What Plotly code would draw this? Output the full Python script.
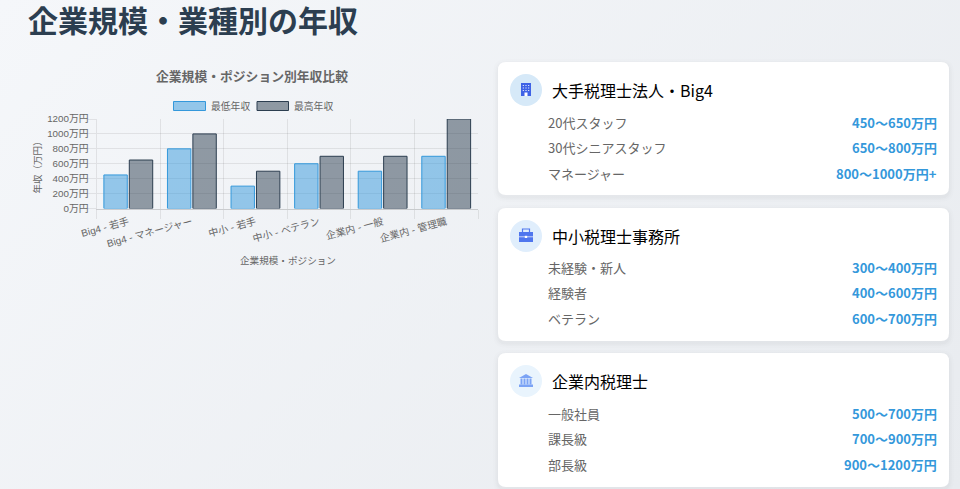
import plotly.graph_objects as go

W = 960
H = 489

# chart data
positions = ["Big4 - 若手", "Big4 - マネージャー", "中小 - 若手", "中小 - ベテラン", "企業内 - 一般", "企業内 - 管理職"]
min_pay = [450, 800, 300, 600, 500, 700]
max_pay = [650, 1000, 500, 700, 700, 1200]
y_ticks = [0, 200, 400, 600, 800, 1000, 1200]
y_tick_labels = ["0万円", "200万円", "400万円", "600万円", "800万円", "1000万円", "1200万円"]

# cards
card_titles = ["大手税理士法人・Big4", "中小税理士事務所", "企業内税理士"]
card_labels = [["20代スタッフ", "30代シニアスタッフ", "マネージャー"],
               ["未経験・新人", "経験者", "ベテラン"],
               ["一般社員", "課長級", "部長級"]]
card_values = [["450〜650万円", "650〜800万円", "800〜1000万円+"],
               ["300〜400万円", "400〜600万円", "600〜700万円"],
               ["500〜700万円", "700〜900万円", "900〜1200万円"]]
card_tops = [62, 208, 353]
card_bottoms = [195, 341, 487]
row_offsets = [[60, 85, 111], [59, 84, 110], [60, 85, 111]]
circle_colors = ["#d6e9f8", "#e0eefc", "#e9f4fd"]
icon_colors = ["#3f63e6", "#4f76ee", "#7ba3f5"]

CJK = "Noto Sans CJK JP"
CHART_FONT = "Liberation Sans, Noto Sans CJK JP"


def px(x):
    return x / W


def py(y):
    return 1 - y / H


def add_text(fig, x, y, text, size, color, anchor="left", font=CJK, angle=0, height=None):
    # annotations carry about 2px of padding, take it back here
    pad = {"left": -2, "center": 0, "right": 2}[anchor]
    fig.add_annotation(x=px(x + pad), y=py(y), xref="paper", yref="paper", text=text, showarrow=False,
                       xanchor=anchor, yanchor="middle", textangle=angle, height=height,
                       font=dict(family=font, size=size, color=color))


def add_rect(fig, x0, y0, x1, y1, fill, line=None, width=0):
    fig.add_shape(type="rect", xref="paper", yref="paper", x0=px(x0), x1=px(x1), y0=py(y0), y1=py(y1),
                  fillcolor=fill, line=dict(color=line, width=width), layer="below")


def round_rect_path(x0, y0, x1, y1, r):
    pts = [("M", x0 + r, y0), ("L", x1 - r, y0), ("Q", x1, y0, x1, y0 + r), ("L", x1, y1 - r),
           ("Q", x1, y1, x1 - r, y1), ("L", x0 + r, y1), ("Q", x0, y1, x0, y1 - r), ("L", x0, y0 + r),
           ("Q", x0, y0, x0 + r, y0)]
    out = ""
    for p in pts:
        coords = p[1:]
        out += p[0]
        out += " ".join("%.5f,%.5f" % (px(coords[i]), py(coords[i + 1])) for i in range(0, len(coords), 2))
        out += " "
    return out + "Z"


def add_card(fig, top, bottom):
    # soft shadow
    for grow, alpha in [(5, 0.008), (3, 0.012), (1.5, 0.016)]:
        fig.add_shape(type="path", xref="paper", yref="paper", layer="below",
                      path=round_rect_path(498 - grow, top + 2 - grow, 949 + grow, bottom + 2 + grow, 8 + grow),
                      fillcolor="rgba(0,0,0,%s)" % alpha, line=dict(width=0))
    fig.add_shape(type="path", xref="paper", yref="paper", layer="below",
                  path=round_rect_path(498, top, 949, bottom, 8),
                  fillcolor="white", line=dict(width=0))


def add_circle(fig, cx, cy, r, fill):
    fig.add_shape(type="circle", xref="paper", yref="paper", x0=px(cx - r), x1=px(cx + r),
                  y0=py(cy + r), y1=py(cy - r), fillcolor=fill, line=dict(width=0), layer="below")


def icon_building(fig, cx, cy, color):
    add_rect(fig, cx - 5, cy - 7, cx + 5, cy + 6, color)
    add_rect(fig, cx - 1.5, cy + 2.5, cx + 1.5, cy + 6, "white")
    for dy in [-5, -2.5, 0]:
        for dx in [-3.2, -0.5, 2.2]:
            add_rect(fig, cx + dx, cy + dy, cx + dx + 1, cy + dy + 1, "white")


def icon_briefcase(fig, cx, cy, color):
    add_rect(fig, cx - 3.5, cy - 7, cx + 3.5, cy - 3, "rgba(0,0,0,0)", color, 1.2)
    add_rect(fig, cx - 7, cy - 4, cx + 7, cy + 6, color)
    add_rect(fig, cx - 7, cy + 0.5, cx + 7, cy + 1.2, "white")
    add_rect(fig, cx - 1.2, cy - 0.2, cx + 1.2, cy + 2, "white")


def icon_bank(fig, cx, cy, color):
    fig.add_shape(type="path", xref="paper", yref="paper", layer="below", fillcolor=color, line=dict(width=0),
                  path="M%f,%f L%f,%f L%f,%f Z" % (px(cx - 7), py(cy - 3), px(cx), py(cy - 7), px(cx + 7), py(cy - 3)))
    for dx in [-5.5, -2.5, 0.5, 3.5]:
        add_rect(fig, cx + dx, cy - 2.5, cx + dx + 2, cy + 3.5, color)
    add_rect(fig, cx - 7, cy + 3.5, cx + 7, cy + 6, color)


fig = go.Figure()
fig.add_trace(go.Bar(x=positions, y=min_pay, name="最低年収", marker=dict(color="rgba(52,152,219,0.5)", line=dict(color="#3498db", width=1))))
fig.add_trace(go.Bar(x=positions, y=max_pay, name="最高年収", marker=dict(color="rgba(44,62,80,0.5)", line=dict(color="#2c3e50", width=1))))

fig.update_layout(
    width=W, height=H,
    margin=dict(l=0, r=0, t=0, b=0),
    paper_bgcolor="rgba(0,0,0,0)",
    plot_bgcolor="rgba(0,0,0,0)",
    barmode="group", bargap=0.2, bargroupgap=0.08,
    showlegend=False,
    xaxis=dict(domain=[px(96.5), px(478)], type="category", tickson="boundaries", ticks="outside", ticklen=9,
               tickcolor="rgba(0,0,0,0.08)", gridcolor="rgba(0,0,0,0.08)", showgrid=True, tickangle=-15,
               linecolor="rgba(0,0,0,0.16)", showline=True, zeroline=False, range=[-0.5, 5.5], automargin=False,
               ticklabelstandoff=3, tickfont=dict(family=CHART_FONT, size=10, color="#666")),
    yaxis=dict(domain=[py(208.5), py(119)], range=[0, 1200], tickvals=y_ticks, ticktext=y_tick_labels, ticks="outside",
               ticklen=8, tickcolor="rgba(0,0,0,0.08)", gridcolor="rgba(0,0,0,0.08)", zeroline=False, automargin=False,
               linecolor="rgba(0,0,0,0.08)", showline=True, ticklabelstandoff=-3,
               tickfont=dict(family=CHART_FONT, size=9.8, color="#666")),
)

# page and chart titles
add_text(fig, 28, 18.5, "<b>企業規模・業種別の年収</b>", 30, "#2c3e50", height=34)
add_text(fig, 252.5, 76, "<b>企業規模・ポジション別年収比較</b>", 12.8, "#666", "center", CHART_FONT)
add_text(fig, 36.5, 165, "年収（万円）", 9.5, "#666", "center", CHART_FONT, -90)
add_text(fig, 287.5, 260, "企業規模・ポジション", 9.6, "#666", "center", CHART_FONT)

# legend
add_rect(fig, 173.5, 101.5, 205.5, 110.5, "rgba(52,152,219,0.5)", "#3498db", 1)
add_text(fig, 210.5, 105.5, "最低年収", 9.8, "#666", "left", CHART_FONT)
add_rect(fig, 257, 101.5, 288.5, 110.5, "rgba(44,62,80,0.5)", "#2c3e50", 1)
add_text(fig, 293.5, 105.5, "最高年収", 9.8, "#666", "left", CHART_FONT)

icons = [icon_building, icon_briefcase, icon_bank]
for i in range(len(card_titles)):
    top = card_tops[i]
    add_card(fig, top, card_bottoms[i])
    add_circle(fig, 526, top + 28, 16, circle_colors[i])
    icons[i](fig, 526, top + 28, icon_colors[i])
    add_text(fig, 552, top + 28, card_titles[i], 16, "#000")
    for j in range(3):
        y = top + row_offsets[i][j]
        add_text(fig, 548, y, card_labels[i][j], 13, "#666")
        add_text(fig, 937, y, "<b>%s</b>" % card_values[i][j], 13, "#3498db", "right")

page_css = """
document.body.style.margin = '0';
document.body.style.background = 'linear-gradient(135deg, #f5f7fa 0%, #e8ebef 100%)';
document.body.style.height = '489px';
"""
fig.write_html("out.html", post_script=page_css, config={"displayModeBar": False})
